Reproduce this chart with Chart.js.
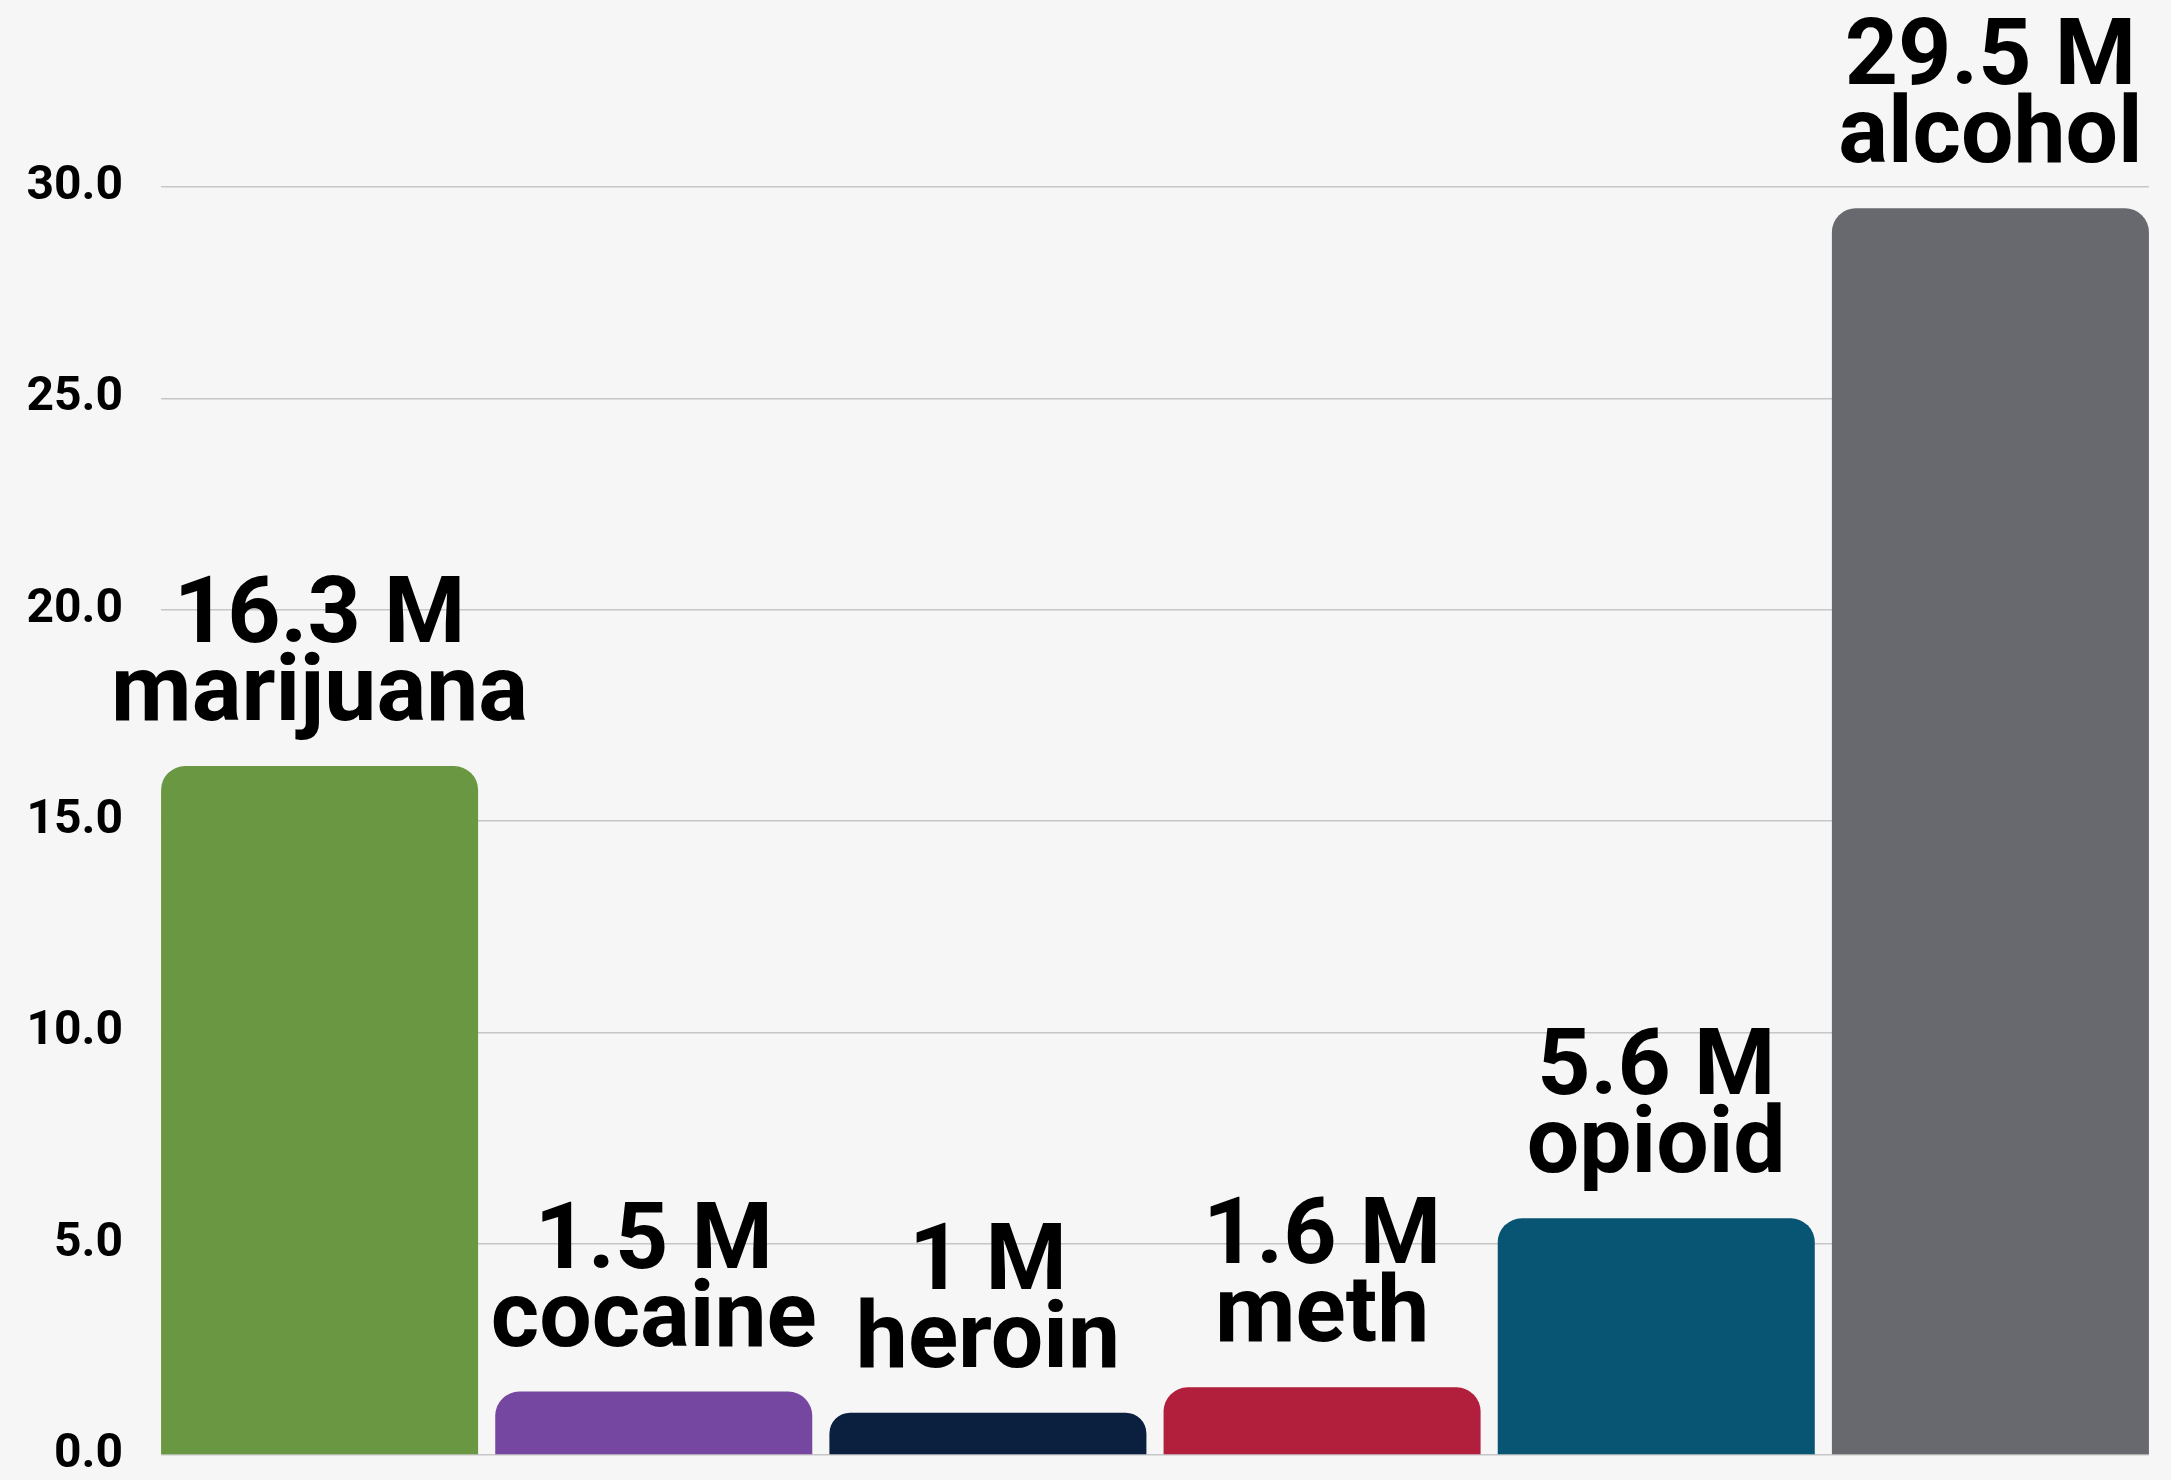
<!DOCTYPE html>
<html lang="en">
<head>
    <meta charset="UTF-8">
    <title>Substance use (millions)</title>
    <script src="https://cdn.jsdelivr.net/npm/chart.js"></script>
    <style>
        html, body {
            margin: 0;
            padding: 0;
            background: #f6f6f6;
        }
        #chart {
            display: block;
        }
    </style>
</head>
<body>
    <canvas id="chart" width="2171" height="1480"></canvas>

    <script>
        // data
        const substances = ['marijuana', 'cocaine', 'heroin', 'meth', 'opioid', 'alcohol'];
        const users = [16.3, 1.5, 1, 1.6, 5.6, 29.5];
        const valueLabels = ['16.3 M', '1.5 M', '1 M', '1.6 M', '5.6 M', '29.5 M'];
        const barColors = ['#6a9741', '#7647a0', '#0b1f3f', '#b11f3d', '#075473', '#67696e'];
        const yTicks = [0, 5, 10, 15, 20, 25, 30];

        const bgColor = '#f6f6f6';
        const labelFont = 'bold 93px Roboto';

        // two-line label above every bar
        const barLabels = {
            id: 'barLabels',
            afterDatasetsDraw(chart) {
                const ctx = chart.ctx;
                const meta = chart.getDatasetMeta(0);
                ctx.save();
                ctx.font = labelFont;
                ctx.fillStyle = '#000';
                ctx.textAlign = 'center';
                ctx.textBaseline = 'alphabetic';
                meta.data.forEach((bar, i) => {
                    ctx.fillText(substances[i], bar.x, bar.y - 46);
                    ctx.fillText(valueLabels[i], bar.x, bar.y - 124);
                });
                ctx.restore();
            }
        };

        // grid lines only run from the first bar's left edge to the last bar's right edge
        const trimGrid = {
            id: 'trimGrid',
            beforeDatasetsDraw(chart) {
                const ctx = chart.ctx;
                const area = chart.chartArea;
                const meta = chart.getDatasetMeta(0);
                const first = meta.data[0];
                const last = meta.data[meta.data.length - 1];
                const leftEdge = first.x - first.width / 2;
                const rightEdge = last.x + last.width / 2;
                ctx.save();
                ctx.fillStyle = bgColor;
                ctx.fillRect(area.left - 2, area.top - 3, leftEdge - area.left + 2, area.bottom - area.top + 6);
                ctx.fillRect(rightEdge, area.top - 3, area.right - rightEdge + 2, area.bottom - area.top + 6);
                ctx.restore();
            }
        };

        const ctx = document.getElementById('chart');
        new Chart(ctx, {
            type: 'bar',
            data: {
                labels: substances,
                datasets: [{
                    data: users,
                    backgroundColor: barColors,
                    borderWidth: 0,
                    borderRadius: { topLeft: 24, topRight: 24, bottomLeft: 0, bottomRight: 0 },
                    borderSkipped: false,
                    barPercentage: 0.9487,
                    categoryPercentage: 1.0
                }]
            },
            options: {
                responsive: false,
                animation: false,
                devicePixelRatio: 1,
                layout: {
                    padding: { top: 187, right: 13.5, bottom: 25, left: 0 }
                },
                plugins: {
                    legend: { display: false },
                    tooltip: { enabled: false }
                },
                scales: {
                    x: {
                        display: false
                    },
                    y: {
                        min: 0,
                        max: 30,
                        afterFit(scale) {
                            scale.width = 152.5;
                            scale.paddingTop = 0;
                            scale.paddingBottom = 0;
                        },
                        afterBuildTicks(scale) {
                            scale.ticks = yTicks.map(v => ({ value: v }));
                        },
                        grid: {
                            color: '#c6c6c6',
                            lineWidth: 1.5,
                            drawTicks: false
                        },
                        border: { display: false },
                        ticks: {
                            padding: 29.5,
                            color: '#000',
                            font: { family: 'Roboto', weight: 'bold', size: 48 },
                            callback: v => v.toFixed(1)
                        }
                    }
                }
            },
            plugins: [trimGrid, barLabels]
        });
    </script>
</body>
</html>
